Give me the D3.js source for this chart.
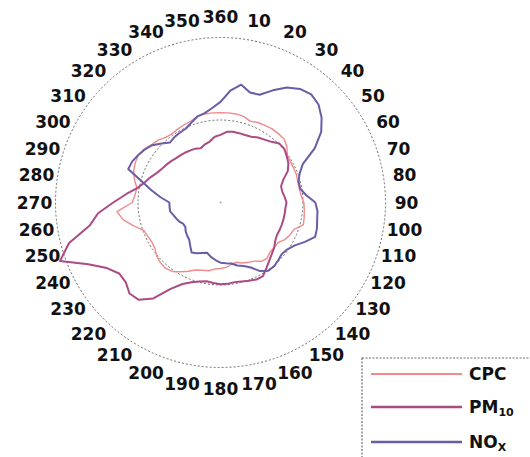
<!DOCTYPE html>
<html>
<head>
<meta charset="utf-8">
<script src="https://cdn.jsdelivr.net/npm/d3@7/dist/d3.min.js"></script>
<style>
  html, body { margin: 0; padding: 0; background: #fff; }
  svg { display: block; }
  text { font-family: "DejaVu Sans", sans-serif; font-weight: bold; fill: #111; }
</style>
</head>
<body>
<svg id="chart" width="530" height="457"></svg>
<script>
// Wind direction bins (degrees, clockwise from north)
const directions = [
  0, 5, 10, 15, 20, 25, 30, 35, 40, 45, 50, 55,
  60, 65, 70, 75, 80, 85, 90, 95, 100, 105, 110, 115,
  120, 125, 130, 135, 140, 145, 150, 155, 160, 165, 170, 175,
  180, 185, 190, 195, 200, 205, 210, 215, 220, 225, 230, 235,
  240, 245, 250, 255, 260, 265, 270, 275, 280, 285, 290, 295,
  300, 305, 310, 315, 320, 325, 330, 335, 340, 345, 350, 355
];

// Normalised concentration per direction (1 = mean)
const cpc = [
  1.09, 1.09, 1.09, 1.08, 1.05, 1.07, 1.08, 1.09, 1.09, 1.09, 1.05, 0.99,
  0.98, 0.98, 0.98, 0.97, 0.97, 0.98, 1.01, 1.02, 1.03, 1.04, 0.95, 0.93,
  0.90, 0.85, 0.85, 0.85, 0.88, 0.87, 0.82, 0.80, 0.78, 0.75, 0.76, 0.79,
  0.80, 0.81, 0.84, 0.85, 0.87, 0.92, 0.97, 1.02, 1.04, 1.03, 1.01, 0.97,
  0.96, 0.97, 0.99, 1.09, 1.20, 1.26, 1.07, 1.04, 1.03, 1.08, 1.12, 1.14,
  1.15, 1.13, 1.09, 1.07, 1.03, 1.02, 1.03, 1.04, 1.05, 1.08, 1.09, 1.09
];
const pm10 = [
  0.82, 0.86, 0.87, 0.87, 0.87, 0.88, 0.91, 0.93, 0.96, 1.01, 1.01, 0.98,
  0.95, 0.90, 0.81, 0.76, 0.76, 0.78, 0.80, 0.79, 0.79, 0.79, 0.79, 0.79,
  0.79, 0.81, 0.85, 0.88, 0.92, 0.97, 1.03, 1.03, 1.01, 0.99, 0.98, 0.99,
  0.99, 0.98, 0.97, 0.99, 1.03, 1.09, 1.21, 1.42, 1.54, 1.56, 1.50, 1.50,
  1.59, 1.77, 2.07, 1.90, 1.61, 1.49, 1.30, 1.15, 1.02, 0.95, 0.90, 0.85,
  0.82, 0.80, 0.78, 0.76, 0.75, 0.74, 0.73, 0.72, 0.70, 0.73, 0.75, 0.80
];
const nox = [
  1.22, 1.36, 1.45, 1.38, 1.39, 1.50, 1.61, 1.68, 1.71, 1.68, 1.60, 1.49,
  1.32, 1.10, 1.02, 0.98, 0.98, 1.04, 1.15, 1.18, 1.19, 1.21, 1.22, 1.13,
  1.04, 0.99, 0.97, 0.99, 1.01, 1.01, 0.96, 0.87, 0.82, 0.79, 0.75, 0.74,
  0.73, 0.70, 0.67, 0.63, 0.65, 0.68, 0.70, 0.64, 0.59, 0.57, 0.55, 0.52,
  0.52, 0.55, 0.57, 0.59, 0.62, 0.62, 0.62, 0.73, 0.85, 0.99, 1.19, 1.18,
  1.15, 1.12, 1.08, 1.01, 0.95, 0.97, 0.98, 0.99, 1.03, 1.08, 1.10, 1.15
];

// Compass labels around the rim
const angleLabels = [10, 20, 30, 40, 50, 60, 70, 80, 90, 100, 110, 120,
  130, 140, 150, 160, 170, 180, 190, 200, 210, 220, 230, 240,
  250, 260, 270, 280, 290, 300, 310, 320, 330, 340, 350, 360];

// Reference rings
const rings = [1, 2];
const radialMax = 2;

const seriesNames = ["CPC", "PM10", "NOX"];
const seriesValues = [cpc, pm10, nox];
const seriesColors = ["#f08a8c", "#ad4a84", "#6a5ca6"];
const seriesWidths = [1.4, 2, 2];

const svg = d3.select("#chart");
const cx = 220.5, cy = 202.5, outerR = 165;

const r = d3.scaleLinear().domain([0, radialMax]).range([0, outerR]);
const toRad = d => d * Math.PI / 180;

const g = svg.append("g").attr("transform", `translate(${cx},${cy})`);

// Rings
g.selectAll("circle.ring")
  .data(rings)
  .join("circle")
  .attr("class", "ring")
  .attr("r", d => r(d))
  .attr("fill", "none")
  .attr("stroke", "#6b6b6b")
  .attr("stroke-width", 1)
  .attr("stroke-dasharray", "2,2");

// Centre point
g.append("circle").attr("r", 1).attr("fill", "#aaa");

// Series outlines
const line = d3.lineRadial()
  .angle(d => toRad(d[0]))
  .radius(d => r(d[1]))
  .curve(d3.curveLinearClosed);

seriesValues.forEach((vals, i) => {
  const pts = directions.map((a, j) => [a, vals[j]]);
  g.append("path")
    .datum(pts)
    .attr("d", line)
    .attr("fill", "none")
    .attr("stroke", seriesColors[i])
    .attr("stroke-width", seriesWidths[i])
    .attr("stroke-linejoin", "round");
});

// Direction labels (spread slightly wider horizontally)
const labelR = 186;
g.selectAll("text.dir")
  .data(angleLabels)
  .join("text")
  .attr("class", "dir")
  .attr("x", d => {
    const t = toRad(d);
    const phi = Math.atan2(1.2 * Math.sin(t), Math.cos(t));
    return labelR * Math.sin(phi);
  })
  .attr("y", d => {
    const t = toRad(d);
    const phi = Math.atan2(1.2 * Math.sin(t), Math.cos(t));
    return -labelR * Math.cos(phi);
  })
  .attr("text-anchor", "middle")
  .attr("dominant-baseline", "central")
  .attr("font-size", 17)
  .text(d => d);

// Legend
const legend = svg.append("g").attr("transform", "translate(362,358)");
legend.append("rect")
  .attr("x", 0).attr("y", 0)
  .attr("width", 200).attr("height", 130)
  .attr("fill", "#fff")
  .attr("stroke", "#6b6b6b")
  .attr("stroke-width", 1.2)
  .attr("stroke-dasharray", "2,1.5");

const rowY = [16, 49, 84];
seriesNames.forEach((name, i) => {
  const row = legend.append("g").attr("transform", `translate(0,${rowY[i]})`);
  row.append("line")
    .attr("x1", 9).attr("x2", 100)
    .attr("y1", 0).attr("y2", 0)
    .attr("stroke", seriesColors[i])
    .attr("stroke-width", seriesWidths[i] + 0.5);
  const txt = row.append("text")
    .attr("x", 107).attr("y", 0)
    .attr("dominant-baseline", "central")
    .attr("font-size", 17);
  const m = name.match(/^([A-Z]+?)(\d+|X)?$/);
  if (name === "CPC") {
    txt.text("CPC");
  } else {
    const base = name === "PM10" ? "PM" : "NO";
    const sub = name === "PM10" ? "10" : "X";
    txt.append("tspan").text(base);
    txt.append("tspan").attr("font-size", 11).attr("dy", 5).text(sub);
  }
});
</script>
</body>
</html>
